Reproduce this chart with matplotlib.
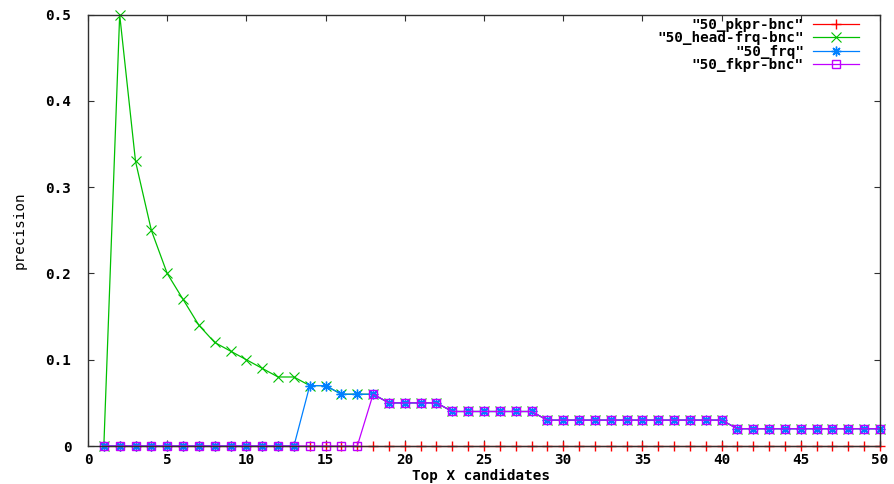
import matplotlib
matplotlib.use("Agg")
import matplotlib.pyplot as plt
import numpy as np

x = list(range(1, 51))

pkpr_bnc = [0.0] * 50

head_frq_bnc = [0.0, 0.5, 0.33, 0.25, 0.2, 0.17, 0.14, 0.12, 0.11, 0.1,
                0.09, 0.08, 0.08, 0.07, 0.07, 0.06, 0.06, 0.06, 0.05, 0.05,
                0.05, 0.05, 0.04, 0.04, 0.04, 0.04, 0.04, 0.04, 0.03, 0.03,
                0.03, 0.03, 0.03, 0.03, 0.03, 0.03, 0.03, 0.03, 0.03, 0.03,
                0.02, 0.02, 0.02, 0.02, 0.02, 0.02, 0.02, 0.02, 0.02, 0.02]

frq = [0.0] * 13 + [0.07, 0.07, 0.06, 0.06, 0.06, 0.05, 0.05,
                    0.05, 0.05, 0.04, 0.04, 0.04, 0.04, 0.04, 0.04, 0.03, 0.03,
                    0.03, 0.03, 0.03, 0.03, 0.03, 0.03, 0.03, 0.03, 0.03, 0.03,
                    0.02, 0.02, 0.02, 0.02, 0.02, 0.02, 0.02, 0.02, 0.02, 0.02]

fkpr_bnc = [0.0] * 17 + [0.06, 0.05, 0.05,
                         0.05, 0.05, 0.04, 0.04, 0.04, 0.04, 0.04, 0.04, 0.03, 0.03,
                         0.03, 0.03, 0.03, 0.03, 0.03, 0.03, 0.03, 0.03, 0.03, 0.03,
                         0.02, 0.02, 0.02, 0.02, 0.02, 0.02, 0.02, 0.02, 0.02, 0.02]

labels = ['"50_pkpr-bnc"', '"50_head-frq-bnc"', '"50_frq"', '"50_fkpr-bnc"']
xticks = [0, 5, 10, 15, 20, 25, 30, 35, 40, 45, 50]
yticks = [0, 0.1, 0.2, 0.3, 0.4, 0.5]
ytick_labels = ["0", "0.1", "0.2", "0.3", "0.4", "0.5"]

FONT = "DejaVu Sans Mono"
FS = 10.3
fig = plt.figure(figsize=(8.94, 4.84), dpi=100)
ax = fig.add_axes([88 / 894, 1 - 446 / 484, 792 / 894, 431.3 / 484])

lw = 0.9
ax.plot(x, pkpr_bnc, color="#ff0000", lw=lw, marker="+", ms=7, mew=1.0, label=labels[0], clip_on=False)
ax.plot(x, head_frq_bnc, color="#00c000", lw=lw, marker="x", ms=7, mew=0.8, label=labels[1], clip_on=False)
ax.plot(x, frq, color="#0080ff", lw=lw, marker=(8, 2, 0), ms=7, mew=1.0, label=labels[2], clip_on=False)
ax.plot(x, fkpr_bnc, color="#c000ff", lw=lw, marker="s", ms=5.5, mfc="none", mew=1.0, label=labels[3], clip_on=False)

ax.set_xlim(0, 50)
ax.set_ylim(0, 0.5)
ax.set_xticks(xticks)
ax.set_yticks(yticks)
ax.set_xticklabels([str(v) for v in xticks], fontfamily=FONT, fontweight="bold", fontsize=FS)
ax.set_yticklabels(ytick_labels, fontfamily=FONT, fontweight="bold", fontsize=FS)
ax.tick_params(direction="in", top=True, right=True, length=4, width=0.8, color="#303030")
ax.tick_params(axis="x", pad=5)
ax.tick_params(axis="y", pad=12)
for s in ax.spines.values():
    s.set_color("#303030")
    s.set_linewidth(1.0)
    s.set_zorder(10)

ax.set_xlabel("Top X candidates", fontfamily=FONT, fontweight="bold", fontsize=FS, va="center")
ax.xaxis.set_label_coords((481 - 88) / 792, (446 - 476) / 431.3)
ax.set_ylabel("precision", fontfamily=FONT, fontsize=10.3, va="center")
ax.yaxis.set_label_coords((20 - 88) / 792, 0.5)

leg = ax.legend(loc="upper right", bbox_to_anchor=((859 - 88) / 792 + 0.0, 1 - 3 / 431.3),
                frameon=False, markerfirst=False, borderaxespad=0, borderpad=0,
                labelspacing=-0.03, handlelength=3.2, handletextpad=0.65,
                prop={"family": FONT, "weight": "bold", "size": FS})

fig.savefig("out.png", dpi=100)
